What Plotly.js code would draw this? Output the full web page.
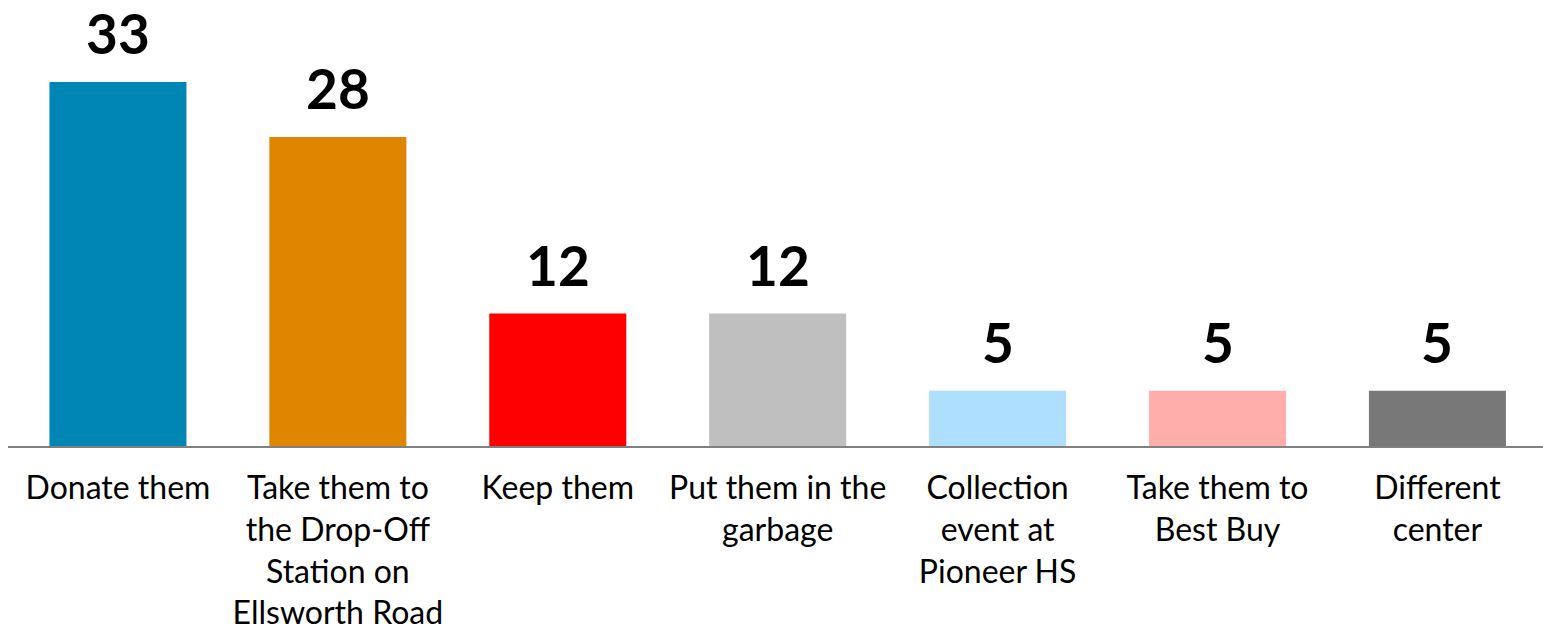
<!DOCTYPE html>
<html>
<head>
<meta charset="utf-8">
<script src="https://cdn.plot.ly/plotly-3.0.1.min.js"></script>
<style>html,body{margin:0;padding:0;background:#fff;}#chart{width:1543px;height:632px;}</style>
</head>
<body>
<div id="chart"></div>
<script>
const categories = [
  "Donate them",
  "Take them to<br>the Drop-Off<br>Station on<br>Ellsworth Road",
  "Keep them",
  "Put them in the<br>garbage",
  "Collection<br>event at<br>Pioneer HS",
  "Take them to<br>Best Buy",
  "Different<br>center"
];
const values = [33, 28, 12, 12, 5, 5, 5];
const barColors = ["#0086B5", "#DF8500", "#FF0000", "#BFBFBF", "#AEDFFE", "#FFAEAC", "#787878"];

const xs = categories.map((c, i) => i);

const trace = {
  type: "bar",
  x: xs,
  y: values,
  marker: {color: barColors},
  hoverinfo: "none"
};

const annotations = values.map((v, i) => ({
  x: xs[i], y: v, xref: "x", yref: "y",
  text: "<b>" + v + "</b>",
  showarrow: false,
  yanchor: "bottom",
  yshift: 14,
  font: {family: "Lato, sans-serif", size: 55, color: "#000"}
}));

const layout = {
  width: 1543, height: 632,
  margin: {l: 7.5, r: 0, t: 0, b: 186},
  paper_bgcolor: "#fff", plot_bgcolor: "#fff",
  showlegend: false,
  bargap: 0.377,
  xaxis: {
    range: [-0.5, 6.48],
    tickmode: "array",
    tickvals: xs,
    ticktext: categories,
    showgrid: false, zeroline: false,
    showline: true, linecolor: "#808080", linewidth: 2,
    ticks: "",
    ticklabelstandoff: 13,
    tickfont: {family: "Lato, sans-serif", size: 32, color: "#000"}
  },
  yaxis: {
    range: [0, 40.43],
    visible: false,
    showgrid: false, zeroline: false
  },
  annotations: annotations
};

Plotly.newPlot("chart", [trace], layout, {staticPlot: true});
</script>
</body>
</html>
